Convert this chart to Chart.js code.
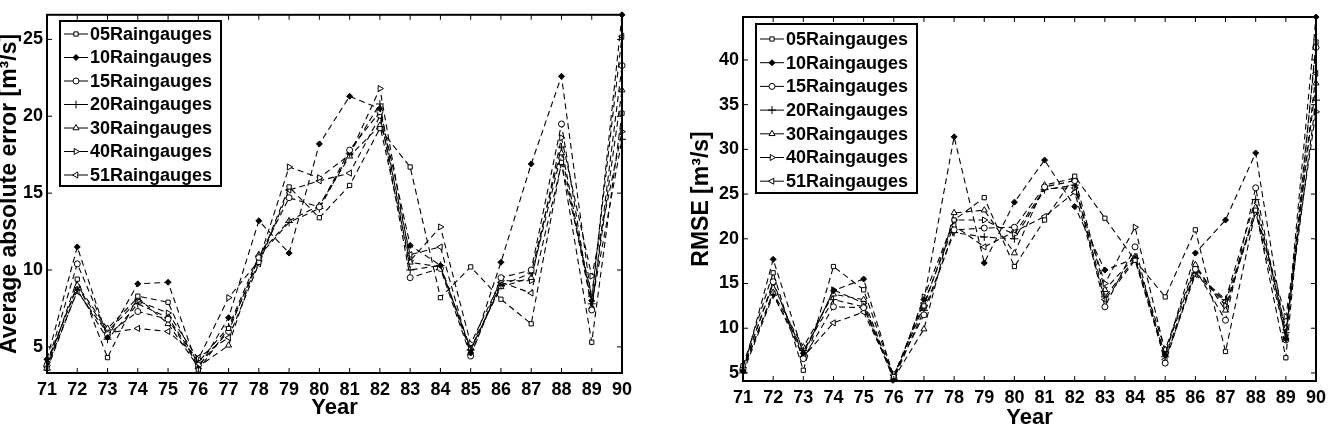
<!DOCTYPE html>
<html>
<head>
<meta charset="utf-8">
<script src="https://cdn.jsdelivr.net/npm/chart.js@4.4.0/dist/chart.umd.min.js"></script>
<style>
body { margin: 0; background: #fff; width: 1332px; height: 437px; position: relative; overflow: hidden; }
canvas { position: absolute; top: 0; }
#maeChart { left: 0; }
#rmseChart { left: 666px; }
</style>
</head>
<body>
<canvas id="maeChart" width="660" height="437"></canvas>
<canvas id="rmseChart" width="666" height="437"></canvas>
<script>
// years on the x axis (1971-1990)
var years = ['71','72','73','74','75','76','77','78','79','80','81','82','83','84','85','86','87','88','89','90'];
var gauges = ['05Raingauges','10Raingauges','15Raingauges','20Raingauges','30Raingauges','40Raingauges','51Raingauges'];

// average absolute error [m3/s]
var mae05 = [3.6, 9.4, 4.3, 8.3, 7.9, 3.5, 6.2, 10.5, 15.4, 13.4, 15.5, 19.2, 16.7, 8.2, 10.2, 8.1, 6.5, 17.0, 5.3, 20.2];
var mae10 = [4.2, 11.5, 5.6, 9.1, 9.2, 3.6, 6.9, 13.2, 11.1, 18.2, 21.3, 20.5, 11.6, 10.3, 4.6, 10.5, 16.9, 22.6, 8.0, 26.6];
var mae15 = [3.8, 10.4, 5.8, 7.3, 6.8, 3.8, 6.0, 10.8, 14.7, 14.1, 17.8, 20.3, 9.5, 10.1, 4.4, 9.5, 10.0, 19.5, 7.4, 23.3];
var mae20 = [3.5, 8.7, 5.5, 7.8, 6.9, 4.0, 6.3, 10.9, 13.1, 14.0, 17.6, 20.8, 10.0, 10.3, 4.8, 9.0, 9.8, 18.0, 7.8, 18.5];
var mae30 = [3.9, 9.0, 6.2, 8.2, 6.5, 3.7, 5.1, 11.0, 13.2, 14.2, 17.4, 19.4, 10.5, 10.2, 4.9, 8.9, 9.5, 17.6, 7.6, 21.7];
var mae40 = [4.0, 8.9, 6.0, 8.0, 7.2, 4.2, 8.2, 10.6, 16.7, 16.0, 17.5, 21.8, 10.6, 12.8, 5.2, 9.3, 9.3, 18.6, 9.6, 19.0];
var mae51 = [3.7, 8.6, 5.9, 6.2, 6.0, 4.3, 5.6, 10.4, 15.2, 15.8, 16.3, 20.0, 11.0, 11.5, 4.5, 9.2, 8.5, 16.9, 8.3, 25.2];

// RMSE [m3/s]
var rmse05 = [5.8, 16.2, 5.3, 16.9, 14.3, 4.6, 12.5, 22.1, 24.6, 16.9, 22.1, 27.0, 22.3, 17.6, 13.5, 21.0, 7.4, 23.2, 6.7, 42.0];
var rmse10 = [5.2, 17.7, 7.2, 14.2, 15.5, 4.5, 13.2, 31.4, 17.3, 24.1, 28.8, 23.6, 16.5, 17.8, 7.0, 18.4, 22.1, 29.6, 8.8, 44.8];
var rmse15 = [5.5, 15.2, 6.6, 12.4, 12.3, 4.8, 11.5, 21.0, 21.2, 21.3, 25.8, 26.5, 12.4, 19.1, 6.1, 16.6, 10.9, 25.7, 8.7, 41.4];
var rmse20 = [5.0, 13.7, 7.5, 13.2, 12.4, 4.3, 12.0, 20.7, 20.2, 20.0, 25.5, 26.0, 13.5, 17.8, 6.8, 16.2, 13.2, 24.4, 9.5, 35.5];
var rmse30 = [5.4, 14.0, 7.9, 13.8, 13.2, 4.4, 9.9, 22.9, 23.2, 18.4, 26.0, 26.8, 14.3, 18.0, 7.6, 17.1, 12.0, 23.5, 10.0, 37.4];
var rmse40 = [5.6, 15.0, 7.0, 14.3, 12.8, 4.2, 13.5, 22.1, 22.1, 20.5, 25.6, 25.7, 15.0, 21.3, 7.3, 16.8, 12.5, 22.9, 11.3, 34.2];
var rmse51 = [5.3, 13.9, 6.8, 10.6, 11.8, 4.7, 12.8, 21.5, 19.1, 20.8, 22.5, 25.2, 13.2, 17.6, 6.5, 16.0, 13.0, 23.0, 9.0, 38.5];

var maeTicks = [5, 10, 15, 20, 25];
var rmseTicks = [5, 10, 15, 20, 25, 30, 35, 40];

// marker look per series (matlab style)
var markers = [
    { style: 'rect', rot: 0, fill: '#fff', r: 3 },
    { style: 'rectRot', rot: 0, fill: '#000', r: 3 },
    { style: 'circle', rot: 0, fill: '#fff', r: 3 },
    { style: 'cross', rot: 0, fill: '#fff', r: 4 },
    { style: 'triangle', rot: 0, fill: '#fff', r: 3.5 },
    { style: 'triangle', rot: 90, fill: '#fff', r: 3.5 },
    { style: 'triangle', rot: -90, fill: '#fff', r: 3.5 }
];

var FONT = '"Liberation Sans", Arial, Helvetica, sans-serif';
Chart.defaults.font.family = FONT;
Chart.defaults.font.weight = 'bold';
Chart.defaults.color = '#000';

function makeSets(series) {
    var sets = [];
    for (var i = 0; i < series.length; i++) {
        var m = markers[i];
        sets.push({
            label: gauges[i],
            data: series[i],
            borderColor: '#000',
            borderWidth: 1.1,
            borderDash: [6, 4],
            backgroundColor: m.fill,
            pointStyle: m.style,
            pointRotation: m.rot,
            pointRadius: m.r,
            pointBorderColor: '#000',
            pointBackgroundColor: m.fill,
            pointBorderWidth: 1,
            tension: 0,
            fill: false,
            clip: false
        });
    }
    return sets;
}

// box + inward ticks on all four sides
var frameTicks = {
    id: 'frameTicks',
    afterDatasetsDraw: function (chart) {
        var a = chart.chartArea, ctx = chart.ctx;
        var xs = chart.scales.x, ys = chart.scales.y, len = 5;
        ctx.save();
        ctx.strokeStyle = '#000';
        ctx.lineWidth = 1;
        ctx.setLineDash([]);
        ctx.beginPath();
        for (var i = 0; i < xs.ticks.length; i++) {
            var px = xs.getPixelForTick(i);
            ctx.moveTo(px, a.bottom); ctx.lineTo(px, a.bottom - len);
            ctx.moveTo(px, a.top); ctx.lineTo(px, a.top + len);
        }
        ys.ticks.forEach(function (t) {
            var py = ys.getPixelForValue(t.value);
            ctx.moveTo(a.left, py); ctx.lineTo(a.left + len, py);
            ctx.moveTo(a.right, py); ctx.lineTo(a.right - len, py);
        });
        ctx.stroke();
        ctx.lineWidth = 2;
        ctx.strokeRect(a.left, a.top, a.right - a.left, a.bottom - a.top);
        ctx.restore();
    }
};

// legend box inside the plot, top left
var boxLegend = {
    id: 'boxLegend',
    afterDraw: function (chart) {
        var o = chart.options.plugins.boxLegend;
        if (!o) return;
        var ctx = chart.ctx;
        ctx.save();
        ctx.setLineDash([]);
        ctx.fillStyle = '#fff';
        ctx.fillRect(o.x, o.y, o.w, o.h);
        ctx.strokeStyle = '#000';
        ctx.lineWidth = 2;
        ctx.strokeRect(o.x, o.y, o.w, o.h);
        ctx.font = 'bold 18px ' + FONT;
        ctx.textBaseline = 'middle';
        ctx.textAlign = 'left';
        chart.data.datasets.forEach(function (ds, i) {
            var y = o.first + i * o.row;
            ctx.lineWidth = 1;
            ctx.strokeStyle = '#000';
            ctx.beginPath();
            ctx.moveTo(o.x + 4, y);
            ctx.lineTo(o.x + 28, y);
            ctx.stroke();
            ctx.fillStyle = ds.pointBackgroundColor;
            Chart.helpers.drawPoint(ctx, {
                pointStyle: ds.pointStyle,
                rotation: ds.pointRotation,
                radius: ds.pointRadius,
                borderWidth: 1
            }, o.x + 16, y);
            ctx.fillStyle = '#000';
            ctx.fillText(ds.label, o.x + 30, y + 1);
        });
        ctx.restore();
    }
};

function makeChart(id, series, yTitle, tickVals, yMin, yMax, lay) {
    return new Chart(document.getElementById(id), {
        type: 'line',
        data: { labels: years, datasets: makeSets(series) },
        plugins: [frameTicks, boxLegend],
        options: {
            responsive: false,
            animation: false,
            layout: { padding: { top: lay.top, right: lay.right, left: 0, bottom: 0 } },
            plugins: {
                legend: { display: false },
                tooltip: { enabled: false },
                boxLegend: lay.legend
            },
            scales: {
                x: {
                    offset: false,
                    grid: { display: false, drawTicks: false },
                    border: { display: false },
                    ticks: { autoSkip: false, maxRotation: 0, padding: 6, font: { size: 18, weight: 'bold' } },
                    title: { display: true, text: 'Year', font: { size: 22, weight: 'bold' }, padding: { top: 0, bottom: lay.yearPad } },
                    afterFit: function (s) { s.height = lay.xh; }
                },
                y: {
                    min: yMin,
                    max: yMax,
                    grid: { display: false, drawTicks: false },
                    border: { display: false },
                    afterBuildTicks: function (s) { s.ticks = tickVals.map(function (v) { return { value: v }; }); },
                    ticks: { padding: 4, font: { size: 18, weight: 'bold' } },
                    title: { display: true, text: yTitle, font: { size: 23, weight: 'bold' }, padding: { top: lay.titlePad, bottom: 0 } },
                    afterFit: function (s) { s.width = lay.yw; }
                }
            }
        }
    });
}

makeChart('maeChart', [mae05, mae10, mae15, mae20, mae30, mae40, mae51],
    'Average absolute error [m³/s]', maeTicks, 3.3, 26.6,
    { top: 14, right: 38, xh: 64, yw: 47, yearPad: 16, titlePad: -4,
      legend: { x: 60, y: 21, w: 161, h: 165, first: 34, row: 23.5 } });

makeChart('rmseChart', [rmse05, rmse10, rmse15, rmse20, rmse30, rmse40, rmse51],
    'RMSE [m³/s]', rmseTicks, 4.1, 44.8,
    { top: 17, right: 7, xh: 56, yw: 77, yearPad: 6, titlePad: 22,
      legend: { x: 90, y: 24, w: 161, h: 169, first: 39, row: 23.7 } });
</script>
</body>
</html>
